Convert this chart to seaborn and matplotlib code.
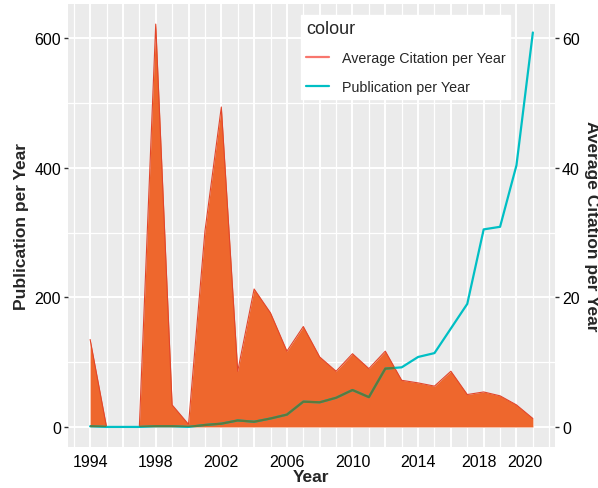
import numpy as np
import pandas as pd
import matplotlib
matplotlib.use("Agg")
import matplotlib.pyplot as plt
import matplotlib.transforms as mtrans
from matplotlib.lines import Line2D
from matplotlib.ticker import MultipleLocator
import seaborn as sns

# data
years = list(range(1994, 2022))
citation = [135, 0, 0, 0, 622, 34, 4, 302, 494, 86, 213, 176, 117, 155,
            108, 86, 113, 90, 117, 72, 68, 63, 86, 50, 54, 48, 34, 13]
publication = [1, 0, 0, 0, 1, 1, 0, 3, 5, 10, 8, 13, 19, 39,
               38, 45, 57, 46, 90, 92, 108, 114, 152, 190, 305, 309, 404, 609]
xtick_years = list(range(1994, 2021, 2))
xtick_labels = ["1994", "", "1998", "", "2002", "", "2006", "", "2010", "",
                "2014", "", "2018", "2020"]

df = pd.DataFrame({"Year": years, "cit": citation, "pub": publication})

sns.set_style("darkgrid", {"axes.facecolor": "#EBEBEB", "grid.color": "white"})
plt.rcParams['font.family'] = ['Liberation Sans', 'DejaVu Sans']

fig = plt.figure(figsize=(5.98, 4.89), dpi=100)
ax = fig.add_axes([68 / 598, 1 - 448 / 489, 487 / 598, 443 / 489])

# publication line (under the area)
sns.lineplot(data=df, x="Year", y="pub", color="#00BFC4", lw=1.6, ax=ax, zorder=3)

# citation area
poly = ax.fill_between(df["Year"], 0, df["cit"], color="#EE672D", lw=0, zorder=2)
sns.lineplot(data=df, x="Year", y="cit", color="#E2452B", lw=0.8, ax=ax, zorder=2.5)

# publication line seen through the area looks olive
over = ax.plot(df["Year"], df["pub"], color="#5C7A3C", lw=1.6, zorder=4)[0]
over.set_clip_path(poly.get_paths()[0], ax.transData)

ax.set_xlim(1992.65, 2022.35)
ax.set_ylim(-31, 653)
ax.set_xticks(xtick_years)
ax.set_xticklabels(xtick_labels)
ax.xaxis.set_minor_locator(MultipleLocator(1))
ax.set_yticks([0, 200, 400, 600])
ax.yaxis.set_minor_locator(MultipleLocator(100))
ax.grid(which="major", color="white", lw=1.4)
ax.grid(which="minor", color="white", lw=0.9)
ax.tick_params(which="major", length=3, width=1, color="#333333",
               labelsize=11.5, labelcolor="black", pad=2)
ax.tick_params(which="minor", length=0)
for s in ax.spines.values():
    s.set_visible(False)

# the last two labels are pushed apart in the reference
labs = ax.get_xticklabels()
labs[-2].set_transform(labs[-2].get_transform() +
                       mtrans.ScaledTranslation(-5 / 100, 0, fig.dpi_scale_trans))
labs[-1].set_transform(labs[-1].get_transform() +
                       mtrans.ScaledTranslation(8 / 100, 0, fig.dpi_scale_trans))

ax.set_xlabel("Year", fontsize=12.5, fontweight="bold", labelpad=0)
ax.set_ylabel("Publication per Year", fontsize=12.5, fontweight="bold", labelpad=4)

# secondary axis
ax2 = ax.twinx()
ax2.set_ylim(-3.1, 65.3)
ax2.set_yticks([0, 20, 40, 60])
ax2.grid(False)
ax2.tick_params(length=3, width=1, color="#333333", labelsize=11.5,
                labelcolor="black", pad=2)
for s in ax2.spines.values():
    s.set_visible(False)
ax2.set_ylabel("Average Citation per Year", fontsize=12.5, fontweight="bold",
               rotation=270, labelpad=14)

handles = [Line2D([], [], color="#F8766D", lw=1.6),
           Line2D([], [], color="#00BFC4", lw=1.6)]
leg = ax.legend(handles, ["Average Citation per Year", "Publication per Year"],
                title="colour", loc="upper left", bbox_to_anchor=(0.478, 0.975),
                frameon=True, facecolor="white", edgecolor="white", fancybox=False,
                framealpha=1, fontsize=10.3, title_fontsize=13, alignment="left",
                handlelength=1.6, handletextpad=0.9, borderpad=0.35,
                labelspacing=1.0, borderaxespad=0)
leg.set_zorder(10)

fig.savefig("out.png", dpi=100)
